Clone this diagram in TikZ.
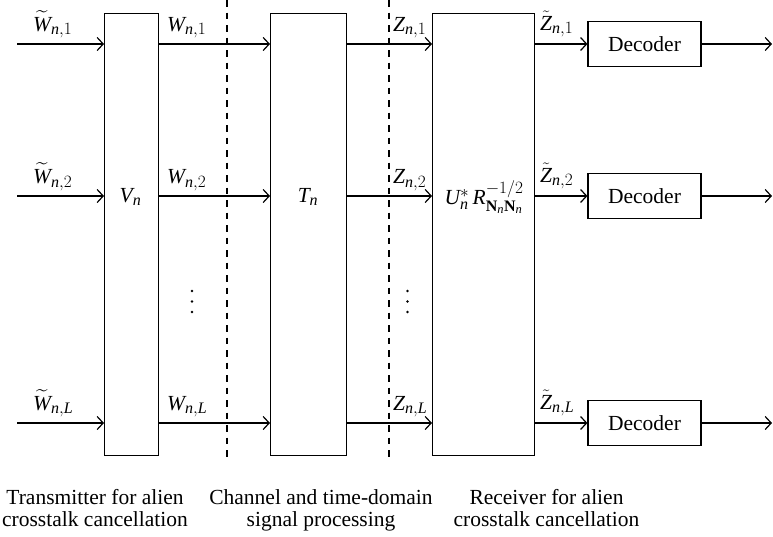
\documentclass[tikz,border=0pt]{standalone}
\usepackage{amsmath}
\usepackage{fontspec}
\setmainfont{Liberation Serif}
\usetikzlibrary{arrows.meta}
\DeclareMathSizes{21.5}{21.5}{16}{12.5}

% italic letters taken from the text face
\newcommand\mi[1]{\mathit{#1}}

\begin{document}
\begin{tikzpicture}[x=1pt,y=-1pt,
  every node/.style={font=\fontsize{21.5}{22}\selectfont, inner sep=0pt},
  wire/.style={line width=1.2pt},
  sig/.style={wire, -{Straight Barb[length=6pt,width=13pt,line width=1.2pt]}},
  tallbox/.style={draw, line width=1.2pt, minimum height=442pt, anchor=north west},
  decbox/.style={draw, line width=1.2pt, minimum width=113pt, minimum height=45pt},
  divider/.style={line width=1.2pt, dash pattern=on 6.5pt off 6pt},
  lab/.style={anchor=base west},
  caption/.style={align=center, anchor=north},
  vdot/.style={fill=black}
]
\useasboundingbox (0,0) rectangle (773,536);

% processing blocks
\node[tallbox, minimum width=54pt]  (V) at (104,13) {};
\node[tallbox, minimum width=76pt]  (T) at (270,13) {};
\node[tallbox, minimum width=102pt] (U) at (432,13) {};

\node (Vlab) at (130.5,197) {$\mi{V}_{\mi{n}}$};
\node (Tlab) at (308,197) {$\mi{T}_{\mi{n}}$};
\node (Ulab) at (484,197) {$\mi{U}_{\mi{n}}^{*}\,\mi{R}^{-1/2}_{\mathbf{N}_{\mi{n}}\mathbf{N}_{\mi{n}}}$};

% section dividers
\coordinate (d1top) at (227,0);   \coordinate (d1bot) at (227,462);
\coordinate (d2top) at (389,0);   \coordinate (d2bot) at (389,462);
\draw[divider] (d1top) -- (d1bot);
\draw[divider] (d2top) -- (d2bot);

% the three signal paths
\foreach \r/\y/\s in {1/44/1, 2/196/2, 3/423/{\mi{L}}}{
  \coordinate (in\r) at (17,\y);
  \coordinate (out\r) at (772,\y);
  \node[decbox] (D\r) at (644.5,\y) {Decoder};
  \draw[sig] (in\r) -- (V.west |- in\r);
  \draw[sig] (V.east |- in\r) -- (T.west |- in\r);
  \draw[sig] (T.east |- in\r) -- (U.west |- in\r);
  \draw[sig] (U.east |- in\r) -- (D\r.west);
  \draw[sig] (D\r.east) -- (out\r);
  \node[lab] (wt\r) at (33,\y-13)  {$\widetilde{\mi{W}}_{\mi{n},\s}$};
  \node[lab] (w\r)  at (167,\y-13) {$\mi{W}_{\mi{n},\s}$};
  \node[lab] (z\r)  at (393,\y-13) {$\mi{Z}_{\mi{n},\s}$};
  \node[lab] (zt\r) at (540,\y-14) {$\tilde{\mi{Z}}_{\mi{n},\s}$};
}

% vertical ellipses between the second and last paths
\foreach \x in {192,407.5}{
  \foreach \y in {291,301.5,312}{
    \fill[vdot] (\x,\y) circle (1.4pt);
  }
}

% section captions
\node[caption] (c1) at (95,489)  {Transmitter for alien\\crosstalk cancellation};
\node[caption] (c2) at (321,489) {Channel and time-domain\\signal processing};
\node[caption] (c3) at (546.5,489) {Receiver for alien\\crosstalk cancellation};
\end{tikzpicture}
\end{document}
